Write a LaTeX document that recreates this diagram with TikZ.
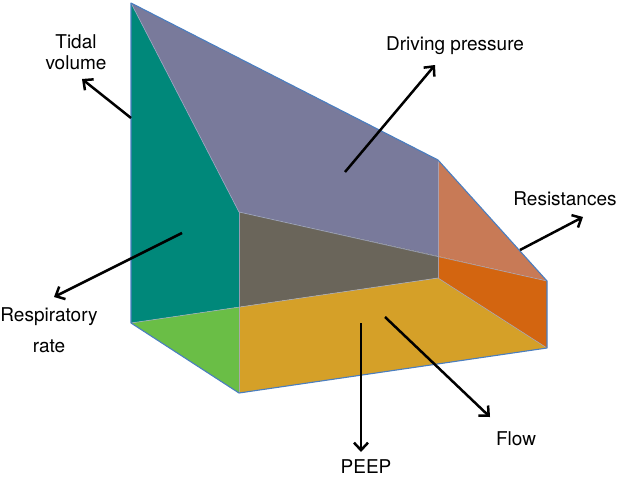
\documentclass[tikz,border=0pt]{standalone}
\usepackage{fontspec}
\setmainfont{TeX Gyre Heros}
\usetikzlibrary{arrows.meta}
\definecolor{cteal}{RGB}{0,136,122}
\definecolor{cpurple}{RGB}{121,122,155}
\definecolor{csalmon}{RGB}{200,122,86}
\definecolor{cdarkor}{RGB}{211,101,16}
\definecolor{cgold}{RGB}{213,160,40}
\definecolor{cbrown}{RGB}{106,101,90}
\definecolor{cgreen}{RGB}{106,190,70}
\definecolor{cedge}{RGB}{74,126,192}
\definecolor{cinner}{RGB}{160,170,200}
\tikzset{
  face/.style={draw=none},
  outline/.style={draw=cedge,line width=1.1pt,line join=round},
  inner/.style={draw=cinner,line width=0.7pt,opacity=0.8},
  arr/.style={draw=black,line width=2.5pt,-{Straight Barb[length=7.5pt,width=14pt,line width=2.5pt]}},
  lbl/.style={font=\fontsize{19}{21}\selectfont,text=black,inner sep=0pt,align=center}
}
\begin{document}
\begin{tikzpicture}[x=1pt,y=-1pt]
\useasboundingbox (0,0) rectangle (618,479);
% vertices
\coordinate (A) at (131,3);
\coordinate (B) at (131,323);
\coordinate (C) at (239,212);
\coordinate (D) at (239,393);
\coordinate (P) at (239,307);
\coordinate (G) at (438,160);
\coordinate (Q) at (438,256);
\coordinate (F) at (438,278);
\coordinate (H) at (547,281);
\coordinate (E) at (547,348);
% faces
\fill[face,cteal] (A) -- (C) -- (P) -- (B) -- cycle;
\fill[face,cgreen] (B) -- (P) -- (D) -- cycle;
\fill[face,cpurple] (A) -- (G) -- (Q) -- (C) -- cycle;
\fill[face,cbrown] (C) -- (Q) -- (F) -- (P) -- cycle;
\fill[face,cgold] (P) -- (D) -- (E) -- (F) -- cycle;
\fill[face,csalmon] (G) -- (H) -- (Q) -- cycle;
\fill[face,cdarkor] (Q) -- (H) -- (E) -- (F) -- cycle;
% inner edges
\draw[inner] (C) -- (D);
\draw[inner] (G) -- (F);
\draw[inner] (C) -- (H);
\draw[inner] (B) -- (F) -- (E);
\draw[inner] (A) -- (C);
% outline
\draw[outline] (A) -- (G) -- (H) -- (E) -- (D) -- (B) -- cycle;
% labels
\node[lbl] (tv) at (76,52) {Tidal\\volume};
\node[lbl] (rr) at (49,330) {Respiratory\\[10pt]rate};
\node[lbl] (dp) at (455,46) {Driving pressure};
\node[lbl] (rs) at (565,199) {Resistances};
\node[lbl] (pe) at (366,467) {PEEP};
\node[lbl] (fl) at (516,439) {Flow};
% arrow end points
\coordinate (tv0) at (131,118); \coordinate (tv1) at (82,79);
\coordinate (rr0) at (182,233); \coordinate (rr1) at (54,297);
\coordinate (dp0) at (345,172); \coordinate (dp1) at (435,65);
\coordinate (rs0) at (520,250); \coordinate (rs1) at (583,217);
\coordinate (pe0) at (361,323); \coordinate (pe1) at (361,452);
\coordinate (fl0) at (385,317); \coordinate (fl1) at (490,417);
\draw[arr] (tv0) -- (tv1);
\draw[arr] (rr0) -- (rr1);
\draw[arr] (dp0) -- (dp1);
\draw[arr] (rs0) -- (rs1);
\draw[arr] (pe0) -- (pe1);
\draw[arr] (fl0) -- (fl1);
\end{tikzpicture}
\end{document}
